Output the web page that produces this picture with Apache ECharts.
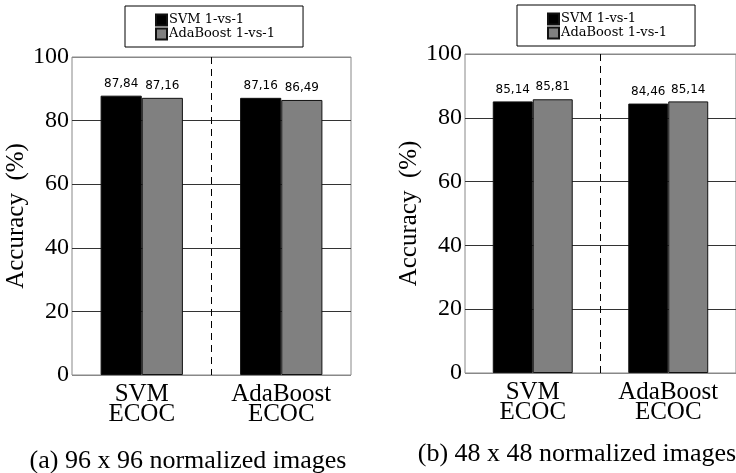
<!DOCTYPE html>
<html>
<head>
<meta charset="utf-8">
<script src="https://cdn.jsdelivr.net/npm/echarts@6/dist/echarts.min.js"></script>
<style>html,body{margin:0;padding:0;background:#fff;}#c{width:736px;height:473px;}</style>
</head>
<body>
<div id="c"></div>
<script>
var categories = ['SVM\nECOC', 'AdaBoost\nECOC'];
var seriesNames = ['SVM 1-vs-1', 'AdaBoost 1-vs-1'];
var svm96 = [87.84, 87.16];
var ada96 = [87.16, 86.49];
var svm48 = [85.14, 84.46];
var ada48 = [85.81, 85.14];
var captions = ['(a) 96 x 96 normalized images', '(b) 48 x 48 normalized images'];
var yName = 'Accuracy  (%)';

var serif = 'Liberation Serif';
var chart = echarts.init(document.getElementById('c'));

function legendCfg(left, top) {
  return {
    left: left, top: top, orient: 'vertical', align: 'left',
    data: seriesNames,
    itemWidth: 11, itemHeight: 11, itemGap: 0,
    padding: [7, 28, 6, 30],
    borderColor: '#000', borderWidth: 1, backgroundColor: '#fff',
    icon: 'rect',
    textStyle: { fontFamily: 'DejaVu Serif', fontSize: 13, color: '#000', lineHeight: 14, padding: [0,0,0,-3] },
    selectedMode: false
  };
}
function xAxisCfg(gi) {
  return {
    type: 'category', gridIndex: gi, data: categories,
    axisLine: { show: false }, axisTick: { show: false },
    axisLabel: { fontFamily: serif, fontSize: 25, color: '#000', lineHeight: 20, margin: 9 },
    splitLine: { show: true, interval: 0,
      lineStyle: { color: ['rgba(0,0,0,0)', '#000', 'rgba(0,0,0,0)'], width: 1, type: [7, 5] } }
  };
}
function yAxisCfg(gi) {
  return {
    type: 'value', gridIndex: gi, min: 0, max: 100, interval: 20,
    name: yName, nameLocation: 'middle', nameGap: 40, nameRotate: 90,
    nameTextStyle: { fontFamily: serif, fontSize: 25, color: '#000' },
    axisLine: { show: false }, axisTick: { show: false },
    axisLabel: { fontFamily: serif, fontSize: 24, color: '#000', margin: 3 },
    splitLine: { show: true, lineStyle: { color: ['#888', '#333', '#333', '#333', '#333', '#888'], width: 1 } }
  };
}
function fmt(p) { return String(p.value).replace('.', ','); }
function barSeries(name, data, gi, color) {
  return {
    type: 'bar', name: name, data: data, xAxisIndex: gi, yAxisIndex: gi,
    barGap: 0, barCategoryGap: '41%',
    itemStyle: { color: color, borderColor: '#111', borderWidth: 1 },
    label: { show: true, position: 'top', distance: 6, formatter: fmt,
      fontFamily: 'DejaVu Sans', fontSize: 12, color: '#000' },
    emphasis: { disabled: true }, animation: false
  };
}

chart.setOption({
  animation: false,
  legend: [legendCfg(125, 6), legendCfg(517, 5)],
  title: [
    { text: captions[0], left: 183, top: 443, textAlign: 'center',
      textStyle: { fontFamily: serif, fontSize: 26, fontWeight: 'normal', color: '#000' } },
    { text: captions[1], left: 572, top: 436, textAlign: 'center',
      textStyle: { fontFamily: serif, fontSize: 26, fontWeight: 'normal', color: '#000' } }
  ],
  grid: [
    { left: 72, top: 57, width: 279, height: 318, show: true, borderColor: '#888', borderWidth: 1, backgroundColor: '#fff' },
    { left: 465, top: 54, width: 278, height: 319, show: true, borderColor: '#888', borderWidth: 1, backgroundColor: '#fff' }
  ],
  xAxis: [xAxisCfg(0), xAxisCfg(1)],
  yAxis: [yAxisCfg(0), yAxisCfg(1)],
  series: [
    barSeries(seriesNames[0], svm96, 0, '#000'),
    barSeries(seriesNames[1], ada96, 0, '#808080'),
    barSeries(seriesNames[0], svm48, 1, '#000'),
    barSeries(seriesNames[1], ada48, 1, '#808080')
  ]
});
</script>
</body>
</html>
